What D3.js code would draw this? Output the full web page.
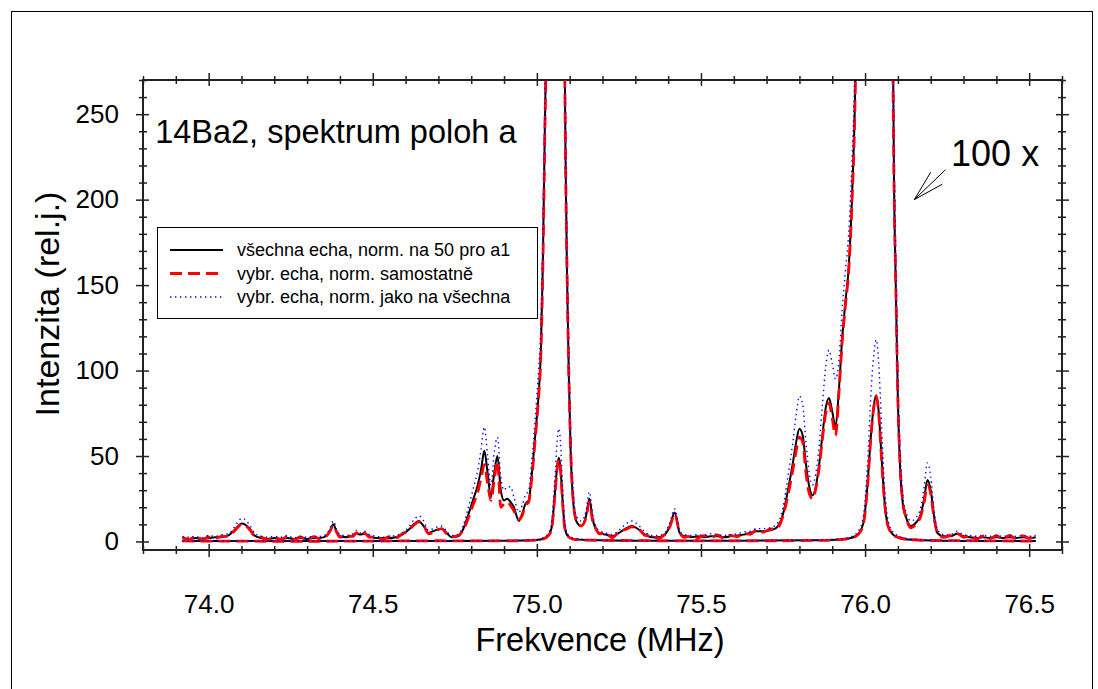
<!DOCTYPE html>
<html><head><meta charset="utf-8">
<script src="https://cdn.jsdelivr.net/npm/d3@7"></script>
<style>body{margin:0;background:#fff} text{font-family:Arial,"Liberation Sans",sans-serif;fill:#000}</style>
</head><body><svg id="c" width="1098" height="689"></svg>
<script>
// ---- magnified (100x) spectrum ----
const freqScaled = [73.92,73.94,73.96,73.98,74.00,74.02,74.04,74.06,74.075,74.09,74.10,74.11,74.125,74.14,74.16,74.18,74.20,74.22,74.24,74.26,74.28,74.30,74.32,74.34,74.36,74.37,74.38,74.39,74.40,74.42,74.44,74.45,74.46,74.475,74.49,74.51,74.53,74.55,74.57,74.59,74.61,74.625,74.64,74.655,74.67,74.69,74.71,74.725,74.74,74.76,74.775,74.79,74.805,74.82,74.83,74.84,74.85,74.86,74.87,74.88,74.89,74.90,74.91,74.92,74.93,74.945,74.955,74.965,74.975,74.985,74.995,75.005,75.012,75.018,75.024,75.03,75.04,75.06,75.08,75.087,75.092,75.097,75.103,75.11,75.12,75.135,75.15,75.16,75.17,75.18,75.19,75.21,75.23,75.25,75.27,75.29,75.31,75.33,75.35,75.37,75.39,75.405,75.42,75.435,75.45,75.47,75.49,75.51,75.53,75.55,75.57,75.59,75.61,75.63,75.65,75.67,75.69,75.71,75.73,75.75,75.765,75.78,75.79,75.80,75.81,75.82,75.83,75.84,75.85,75.86,75.87,75.88,75.89,75.90,75.91,75.92,75.93,75.94,75.95,75.96,75.97,75.98,76.00,76.03,76.06,76.08,76.088,76.094,76.10,76.107,76.115,76.125,76.14,76.155,76.17,76.18,76.19,76.20,76.21,76.22,76.24,76.26,76.28,76.30,76.32,76.34,76.36,76.38,76.40,76.42,76.44,76.46,76.48,76.50,76.52];
const allEchoesScaled = [2.0,1.5,2.0,1.5,2.0,2.5,2.5,3.5,6,9,10.5,10,7.5,3.5,2,1.5,2,1.5,2,1.5,2,1.5,2,2,3.5,6.5,10,5.5,3,2.5,3.5,5,4,4.5,3,2,2,2,2.5,4,7,10,12,9,5,6.5,7.5,5,2.5,3,7,15,24,33,42,53,40,26,40,50,30,24,25,23,20,12,16,22,24,40,62,85,110,160,237,330,900,4500,420,230,155,100,52,25,12,9,15,25,13,7,5,4,3,5,7.5,9,7,4,2.5,2.5,4,9,17,5,3,2.5,3,2.5,3,3,2.5,3,3.5,4,5,6,6,6.5,8,16,30,46,58,66,62,45,32,27,32,45,62,78,84,76,67,88,118,140,160,200,266,420,2000,8500,3000,420,212,145,82,42,22,14,9,11,16,25,36,30,15,5,3,3,4.5,3,2.5,2,2.5,2,2.5,2,2.5,2,2.5,2,2.5];
const selSeparateScaled = [2.5,1.0,2.8,1.2,2.6,1.8,3.0,3.0,5.5,8.5,10,9.5,7,3.2,2.6,0.8,2.5,1.0,2.8,1.2,2.6,1.0,2.8,1.5,3.5,6,9.5,5.5,2.5,3.2,3.0,5.2,3.5,5,2.5,2.6,1.2,2.8,2.0,4.5,6.5,9.5,11.5,9.5,4.5,6,7.5,4.5,2.8,3.5,6.5,13,21,29,37,45,34,24,36,47,20,22,23,21,18,13,15,21,23,38,60,84,108,158,235,325,900,4500,420,232,157,102,54,26,12.5,9,14,23,12,7.5,4.5,4.8,2.2,5.5,7,8.5,7.5,3.5,3.2,1.8,4.2,8.5,16,5.5,2.4,3.2,2.0,3.4,2.2,3.8,1.8,3.6,2.8,4.6,4.2,6.8,5.4,7.2,7.5,15,27,42,53,61,58,40,28,25,31,43,60,75,81,72,62,86,116,138,158,198,264,420,2000,8500,3000,422,214,147,84,44,23,14,8,10,15,23,33,28,14,5.5,2.4,3.6,4.8,2.4,3.4,1.4,3.2,1.6,3.4,1.4,3.6,1.6,3.4,1.8,3.6];
const selAsAllScaled = [3,2.5,3,2,3.5,3,4,4.5,7.5,11.5,13.5,13,9.5,5,3,2.5,3,2.5,3.5,2,3,2.5,3,3,4.5,8,12,7,4,3.5,4.5,6.5,5,6,4,3,2.5,3,3.5,5,8.5,12.5,15,12,6.5,8,9,6,3.5,4,9,19,30,42,54,67,50,33,52,61,38,30,32,32,26,17,21,27,30,48,72,100,125,175,250,350,900,4500,440,250,170,112,60,31,15,12,18,29,16,9,6.5,5,4,6.5,10,12,9.5,5.5,3.5,3.5,5,11,19,6.5,4,3.5,4,3.5,4.5,4,3.5,4,4.5,5.5,6,7.5,7.5,8,10,20,38,58,74,85,80,58,40,33,40,56,80,102,112,104,95,105,135,158,180,222,285,420,2000,8500,3000,440,232,160,92,50,27,17,12,14,20,32,46,38,19,7,4,4,6,4,3.5,3,3.5,3,3.5,3,3.5,3,3.5,3,3.5];
// ---- unmagnified spectrum ----
const freqRaw = [73.92,74.3,74.7,74.9,75.0,75.02,75.035,75.045,75.055,75.062,75.067,75.072,75.078,75.085,75.095,75.11,75.15,75.3,75.6,75.85,75.93,75.96,75.98,75.995,76.007,76.017,76.027,76.034,76.041,76.05,76.06,76.07,76.085,76.10,76.13,76.20,76.35,76.52];
const allEchoesRaw = [0.2,0.2,0.3,0.4,0.9,1.6,3.5,8,28,44,49,43,25,8,3,1.5,0.8,0.4,0.4,0.7,1.2,2.2,4.5,11,32,60,80,85.5,77,50,22,9,4,2.5,1.2,0.6,0.3,0.2];
const selSeparateRaw = [0.3,0.1,0.4,0.3,0.8,1.5,3.4,7.5,27,43,48,42,24,8,3,1.4,0.8,0.5,0.3,0.6,1.2,2.1,4.3,10.5,31,59,79,85,76,49,21.5,9,4,2.4,1.2,0.6,0.4,0.2];
const selAsAllRaw = [0.2,0.3,0.3,0.5,1.2,2.2,4.8,11,37,59,66,58,34,11,4,2,1.1,0.5,0.5,0.9,1.6,3,6.2,15,44,83,110,118,106,69,30,12.5,5.5,3.4,1.6,0.8,0.4,0.3];

const xMajor = [74.0,74.5,75.0,75.5,76.0,76.5];
const yMajor = [0,50,100,150,200,250];
const legendLabels = ["všechna echa, norm. na 50 pro a1","vybr. echa, norm. samostatně","vybr. echa, norm. jako na všechna"];

const svg = d3.select('#c');
svg.append('rect').attr('x',11.5).attr('y',11.5).attr('width',1081).attr('height',700)
  .attr('fill','none').attr('stroke','#000').attr('stroke-width',1);

const L=143,R=1062,T=80,B=550;
const x = d3.scaleLinear().domain([73.8,76.6]).range([L,R]);
const y = d3.scaleLinear().domain([-5,270]).range([B,T]);

const xMinor = d3.range(73.8,76.6001,0.1).map(v=>+v.toFixed(2)).filter(v=>!xMajor.some(m=>Math.abs(m-v)<1e-6));
const yMinor = d3.range(0,270.1,10).filter(v=>v%50!==0);

function drawAxis(fn, scale, major, minor, tr, fmt, pad){
  const g = svg.append('g').attr('transform',tr);
  const specs = [[major,7,true],[major,-6,false],[minor,4,false],[minor,-4,false]];
  specs.forEach(([vals,size,lab])=>{
    const a = fn(scale).tickValues(vals).tickSizeInner(size).tickSizeOuter(0)
      .tickPadding(pad).tickFormat(lab && fmt ? fmt : ()=>'');
    const gg = g.append('g').call(a);
    gg.select('.domain').remove();
    gg.selectAll('.tick line').attr('stroke','#222').attr('stroke-width',1.5);
    gg.selectAll('text').style('font-size','26px').attr('fill','#000');
  });
  return g;
}
drawAxis(d3.axisBottom, x, xMajor, xMinor, `translate(0,${B})`, d3.format('.1f'), 38);
drawAxis(d3.axisTop, x, xMajor, xMinor, `translate(0,${T})`, null, 3);
drawAxis(d3.axisLeft, y, yMajor, yMinor, `translate(${L},0)`, d3.format('d'), 17);
drawAxis(d3.axisRight, y, yMajor, yMinor, `translate(${R},0)`, null, 3);
svg.append('rect').attr('x',L).attr('y',T).attr('width',R-L).attr('height',B-T)
  .attr('fill','none').attr('stroke','#222').attr('stroke-width',2);

svg.append('defs').append('clipPath').attr('id','clip').append('rect')
  .attr('x',L).attr('y',T).attr('width',R-L).attr('height',B-T);
const plot = svg.append('g').attr('clip-path','url(#clip)');

const styles = [
  {stroke:'#000', w:2, dash:null},
  {stroke:'#ff0000', w:2.8, dash:'12,6'},
  {stroke:'#0000ff', w:1.4, dash:'1.4,3.6'}
];
function line(fr, vals){
  return d3.line().x((d,i)=>x(fr[i])).y(d=>y(Math.min(d,2000))).curve(d3.curveMonotoneX)(vals);
}
const sets = [
  [freqScaled, allEchoesScaled, 0],[freqRaw, allEchoesRaw, 0],
  [freqScaled, selSeparateScaled, 1],[freqRaw, selSeparateRaw, 1],
  [freqScaled, selAsAllScaled, 2],[freqRaw, selAsAllRaw, 2]
];
sets.forEach(([fr,vals,si])=>{
  const s=styles[si];
  plot.append('path').attr('d',line(fr,vals)).attr('fill','none')
    .attr('stroke',s.stroke).attr('stroke-width',s.w).attr('stroke-dasharray',s.dash)
    .attr('stroke-linejoin','round');
});

// legend
const lg = svg.append('g');
lg.append('rect').attr('x',157.5).attr('y',227.5).attr('width',380).attr('height',91)
  .attr('fill','#fff').attr('stroke','#000').attr('stroke-width',1);
legendLabels.forEach((t,i)=>{
  const yy = 250 + i*23.5;
  const s = styles[i];
  lg.append('line').attr('x1',170).attr('x2',223).attr('y1',yy).attr('y2',yy)
    .attr('stroke',s.stroke).attr('stroke-width',s.w).attr('stroke-dasharray',s.dash);
  lg.append('text').attr('x',237).attr('y',yy+6).style('font-size','18px').text(t);
});

// annotations
svg.append('text').attr('x',x(73.837)).attr('y',y(233)).style('font-size','32.5px').text('14Ba2, spektrum poloh a');
svg.append('text').attr('x',x(76.262)).attr('y',y(219.5)).style('font-size','36px').text('100 x');
[[76.2,216],[76.245,217.5],[76.235,209]].forEach(([f,v])=>{
  svg.append('line').attr('x1',x(76.15)).attr('y1',y(200)).attr('x2',x(f)).attr('y2',y(v))
    .attr('stroke','#000').attr('stroke-width',1);
});

svg.append('text').attr('x',600).attr('y',651).attr('text-anchor','middle').style('font-size','32.5px').text('Frekvence (MHz)');
svg.append('text').attr('transform','translate(59,304) rotate(-90)').attr('text-anchor','middle').style('font-size','34px').text('Intenzita (rel.j.)');
</script></body></html>
